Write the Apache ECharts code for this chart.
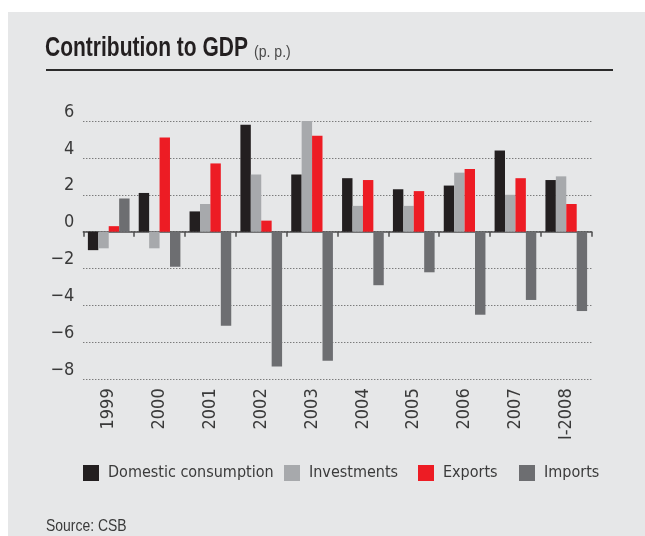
<!DOCTYPE html>
<html>
<head>
<meta charset="utf-8">
<script src="https://cdn.jsdelivr.net/npm/echarts@6/dist/echarts.min.js"></script>
<style>
html,body{margin:0;padding:0;background:#fff;}
#c{width:645px;height:536px;}
</style>
</head>
<body>
<div id="c"></div>
<script>
var categories = ['1999','2000','2001','2002','2003','2004','2005','2006','2007','I-2008'];
var domesticConsumption = [-1.0, 2.1, 1.1, 5.8, 3.1, 2.9, 2.3, 2.5, 4.4, 2.8];
var investments = [-0.9, -0.9, 1.5, 3.1, 6.0, 1.4, 1.4, 3.2, 2.0, 3.0];
var exportsData = [0.3, 5.1, 3.7, 0.6, 5.2, 2.8, 2.2, 3.4, 2.9, 1.5];
var importsData = [1.8, -1.9, -5.1, -7.3, -7.0, -2.9, -2.2, -4.5, -3.7, -4.3];
var seriesNames = ['Domestic consumption','Investments','Exports','Imports'];
var seriesColors = ['#231f20','#a7a9ac','#ed1c24','#6d6e71'];

var COND = "'DejaVu Sans Condensed','Liberation Sans',sans-serif";
var ARIAL = "'Liberation Sans',Arial,sans-serif";
var TXT = '#3a3a3a';

var chart = echarts.init(document.getElementById('c'), null, {renderer:'canvas'});
function bar(i, data){
  return {name:seriesNames[i], type:'bar', data:data, xAxisIndex:0, yAxisIndex:0,
    barGap:'0%', barCategoryGap:'18%', itemStyle:{color:seriesColors[i]}, emphasis:{disabled:true}};
}
var legendLefts = [83, 284, 418, 519];
var legends = seriesNames.map(function(n, i){
  return {left:legendLefts[i], top:465, itemWidth:16, itemHeight:16, icon:'rect', padding:0,
    itemStyle:{borderWidth:0},
    textStyle:{fontFamily:COND, fontSize:16, color:TXT, padding:[1,0,0,4]}, data:[n], selectedMode:false};
});
chart.setOption({
  animation:false,
  backgroundColor:'#ffffff',
  graphic:[
    {type:'rect', z:-10, shape:{x:8,y:12,width:640,height:530}, style:{fill:'#e6e7e8'}, silent:true},
    {type:'line', shape:{x1:46,y1:70,x2:613,y2:70}, style:{stroke:'#2b2b2b',lineWidth:2}, silent:true},
    {type:'text', x:45, y:62, scaleX:0.75, style:{text:'Contribution to GDP', fill:'#231f20', font:'bold 28px '+ARIAL, verticalAlign:'bottom'}, silent:true},
    {type:'text', x:254, y:61, scaleX:0.88, style:{text:'(p. p.)', fill:'#4a4a4a', font:'16px '+ARIAL, verticalAlign:'bottom'}, silent:true},
    {type:'text', x:46, y:535, scaleX:0.82, style:{text:'Source: CSB', fill:TXT, font:'17px '+ARIAL, verticalAlign:'bottom'}, silent:true}
  ],
  legend:legends,
  grid:{left:83.3, right:53.3, top:121, bottom:156.7},
  xAxis:[
    {type:'category', data:categories, position:'bottom',
     axisLine:{onZero:true, lineStyle:{color:'#4d4d4d', width:1.5}},
     axisTick:{show:true, length:5, inside:false, lineStyle:{color:'#4d4d4d', width:1.5}},
     axisLabel:{show:false}, splitLine:{show:false}},
    {type:'category', data:categories, position:'bottom', offset:0,
     axisLine:{show:false, onZero:false}, axisTick:{show:false},
     axisLabel:{rotate:90, margin:9, fontFamily:COND, fontSize:18, color:TXT}}
  ],
  yAxis:{
    type:'value', min:-8, max:6, interval:2,
    axisLine:{show:false}, axisTick:{show:false},
    axisLabel:{margin:9, fontFamily:COND, fontSize:18, color:TXT, verticalAlign:'bottom', lineHeight:18, padding:[0,0,0,0],
      formatter:function(v){ return String(v).replace('-', '\u2212'); }},
    splitLine:{show:true, lineStyle:{color:'#4d4d4d', width:1, type:[1,2]}}
  },
  series:[
    bar(0, domesticConsumption),
    bar(1, investments),
    bar(2, exportsData),
    bar(3, importsData)
  ]
});
</script>
</body>
</html>
